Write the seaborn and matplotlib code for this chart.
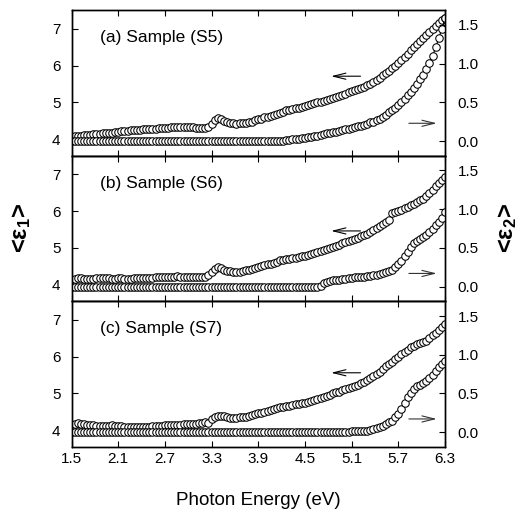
import numpy as np
import pandas as pd
import matplotlib
matplotlib.use('Agg')
import matplotlib.pyplot as plt
import seaborn as sns

# ==============================
# Data (step 0.04 eV)
# ==============================
energia = np.round(np.arange(1.5, 6.3001, 0.04), 2)

eps1_s5 = [4.00, 4.08, 4.10, 4.10, 4.11, 4.12, 4.12, 4.13, 4.14, 4.15,
           4.16, 4.17, 4.17, 4.18, 4.19, 4.20, 4.21, 4.22, 4.23, 4.24,
           4.25, 4.25, 4.26, 4.27, 4.27, 4.28, 4.29, 4.29, 4.30, 4.30,
           4.31, 4.31, 4.32, 4.33, 4.33, 4.33, 4.34, 4.34, 4.33, 4.32,
           4.31, 4.30, 4.30, 4.31, 4.33, 4.42, 4.53, 4.58, 4.55, 4.50,
           4.47, 4.45, 4.43, 4.42, 4.43, 4.44, 4.45, 4.46, 4.48, 4.51,
           4.54, 4.56, 4.59, 4.61, 4.64, 4.66, 4.69, 4.72, 4.75, 4.78,
           4.80, 4.82, 4.84, 4.86, 4.88, 4.90, 4.93, 4.95, 4.97, 5.00,
           5.02, 5.04, 5.07, 5.09, 5.12, 5.15, 5.18, 5.21, 5.24, 5.27,
           5.30, 5.33, 5.36, 5.39, 5.43, 5.47, 5.51, 5.55, 5.60, 5.67,
           5.74, 5.80, 5.86, 5.93, 6.00, 6.08, 6.16, 6.24, 6.32, 6.41,
           6.50, 6.58, 6.66, 6.74, 6.83, 6.92, 7.00, 7.08, 7.16, 7.23,
           7.30]
eps2_s5 = [0.00, 0.00, 0.00, 0.00, 0.00, 0.00, 0.00, 0.00, 0.00, 0.00,
           0.00, 0.00, 0.00, 0.00, 0.00, 0.00, 0.00, 0.00, 0.00, 0.00,
           0.00, 0.00, 0.00, 0.00, 0.00, 0.00, 0.00, 0.00, 0.00, 0.00,
           0.00, 0.00, 0.00, 0.00, 0.00, 0.00, 0.00, 0.00, 0.00, 0.00,
           0.00, 0.00, 0.00, 0.00, 0.00, 0.00, 0.00, 0.00, 0.00, 0.00,
           0.00, 0.00, 0.00, 0.00, 0.00, 0.00, 0.00, 0.00, 0.00, 0.00,
           0.00, 0.00, 0.00, 0.00, 0.00, 0.00, 0.00, 0.00, 0.00, 0.02,
           0.02, 0.03, 0.03, 0.03, 0.04, 0.04, 0.05, 0.05, 0.06, 0.07,
           0.08, 0.09, 0.10, 0.11, 0.12, 0.12, 0.13, 0.14, 0.15, 0.16,
           0.17, 0.18, 0.19, 0.20, 0.21, 0.22, 0.24, 0.25, 0.27, 0.29,
           0.31, 0.34, 0.37, 0.40, 0.43, 0.46, 0.50, 0.55, 0.59, 0.64,
           0.69, 0.74, 0.80, 0.85, 0.93, 1.01, 1.10, 1.21, 1.33, 1.45,
           1.59]

eps1_s6 = [4.00, 4.15, 4.18, 4.17, 4.16, 4.16, 4.15, 4.16, 4.17, 4.17,
           4.18, 4.18, 4.17, 4.16, 4.16, 4.17, 4.17, 4.16, 4.15, 4.16,
           4.17, 4.18, 4.18, 4.18, 4.19, 4.19, 4.19, 4.20, 4.20, 4.21,
           4.21, 4.22, 4.22, 4.22, 4.23, 4.22, 4.22, 4.22, 4.22, 4.21,
           4.21, 4.20, 4.20, 4.22, 4.26, 4.34, 4.43, 4.48, 4.45, 4.41,
           4.38, 4.36, 4.34, 4.34, 4.35, 4.37, 4.39, 4.41, 4.43, 4.45,
           4.47, 4.50, 4.53, 4.55, 4.57, 4.60, 4.63, 4.66, 4.68, 4.70,
           4.71, 4.72, 4.73, 4.75, 4.77, 4.79, 4.81, 4.83, 4.85, 4.88,
           4.91, 4.94, 4.97, 5.00, 5.03, 5.06, 5.09, 5.12, 5.15, 5.18,
           5.21, 5.24, 5.27, 5.31, 5.35, 5.39, 5.44, 5.49, 5.55, 5.60,
           5.65, 5.70, 5.75, 5.94, 5.97, 6.00, 6.04, 6.08, 6.12, 6.16,
           6.20, 6.24, 6.29, 6.34, 6.41, 6.49, 6.58, 6.67, 6.76, 6.85,
           6.93]
eps2_s6 = [0.00, 0.00, 0.00, 0.00, 0.00, 0.00, 0.00, 0.00, 0.00, 0.00,
           0.00, 0.00, 0.00, 0.00, 0.00, 0.00, 0.00, 0.00, 0.00, 0.00,
           0.00, 0.00, 0.00, 0.00, 0.00, 0.00, 0.00, 0.00, 0.00, 0.00,
           0.00, 0.00, 0.00, 0.00, 0.00, 0.00, 0.00, 0.00, 0.00, 0.00,
           0.00, 0.00, 0.00, 0.00, 0.00, 0.00, 0.00, 0.00, 0.00, 0.00,
           0.00, 0.00, 0.00, 0.00, 0.00, 0.00, 0.00, 0.00, 0.00, 0.00,
           0.00, 0.00, 0.00, 0.00, 0.00, 0.00, 0.00, 0.00, 0.00, 0.00,
           0.00, 0.00, 0.00, 0.00, 0.00, 0.00, 0.00, 0.00, 0.00, 0.00,
           0.01, 0.05, 0.06, 0.07, 0.08, 0.08, 0.09, 0.10, 0.10, 0.11,
           0.11, 0.12, 0.12, 0.13, 0.13, 0.14, 0.14, 0.15, 0.15, 0.16,
           0.17, 0.19, 0.20, 0.22, 0.25, 0.29, 0.33, 0.39, 0.45, 0.51,
           0.56, 0.59, 0.62, 0.64, 0.67, 0.71, 0.75, 0.80, 0.84, 0.88,
           0.96]

eps1_s7 = [4.09, 4.18, 4.20, 4.18, 4.16, 4.15, 4.14, 4.13, 4.12, 4.12,
           4.11, 4.12, 4.12, 4.13, 4.12, 4.11, 4.11, 4.10, 4.10, 4.10,
           4.09, 4.09, 4.09, 4.10, 4.10, 4.10, 4.11, 4.11, 4.12, 4.12,
           4.13, 4.13, 4.14, 4.14, 4.14, 4.15, 4.16, 4.16, 4.17, 4.17,
           4.18, 4.19, 4.20, 4.23, 4.20, 4.30, 4.37, 4.39, 4.40, 4.38,
           4.35, 4.34, 4.34, 4.34, 4.35, 4.36, 4.36, 4.38, 4.41, 4.44,
           4.46, 4.48, 4.50, 4.52, 4.55, 4.57, 4.60, 4.63, 4.64, 4.65,
           4.66, 4.68, 4.70, 4.72, 4.74, 4.75, 4.77, 4.79, 4.82, 4.85,
           4.88, 4.91, 4.94, 4.97, 5.00, 5.03, 5.05, 5.08, 5.11, 5.14,
           5.17, 5.21, 5.24, 5.28, 5.32, 5.37, 5.42, 5.47, 5.53, 5.59,
           5.66, 5.74, 5.80, 5.86, 5.93, 5.99, 6.07, 6.13, 6.19, 6.25,
           6.30, 6.34, 6.37, 6.39, 6.43, 6.50, 6.58, 6.65, 6.72, 6.80,
           6.88]
eps2_s7 = [0.00, 0.00, 0.00, 0.00, 0.00, 0.00, 0.00, 0.00, 0.00, 0.00,
           0.00, 0.00, 0.00, 0.00, 0.00, 0.00, 0.00, 0.00, 0.00, 0.00,
           0.00, 0.00, 0.00, 0.00, 0.00, 0.00, 0.00, 0.00, 0.00, 0.00,
           0.00, 0.00, 0.00, 0.00, 0.00, 0.00, 0.00, 0.00, 0.00, 0.00,
           0.00, 0.00, 0.00, 0.00, 0.00, 0.00, 0.00, 0.00, 0.00, 0.00,
           0.00, 0.00, 0.00, 0.00, 0.00, 0.00, 0.00, 0.00, 0.00, 0.00,
           0.00, 0.00, 0.00, 0.00, 0.00, 0.00, 0.00, 0.00, 0.00, 0.00,
           0.00, 0.00, 0.00, 0.00, 0.00, 0.00, 0.00, 0.00, 0.00, 0.00,
           0.00, 0.00, 0.00, 0.00, 0.00, 0.00, 0.00, 0.00, 0.00, 0.00,
           0.01, 0.01, 0.01, 0.02, 0.02, 0.02, 0.03, 0.04, 0.05, 0.06,
           0.08, 0.10, 0.13, 0.15, 0.19, 0.24, 0.30, 0.38, 0.45, 0.51,
           0.56, 0.59, 0.61, 0.63, 0.66, 0.70, 0.74, 0.79, 0.84, 0.88,
           0.92]

amostras = ['(a) Sample (S5)', '(b) Sample (S6)', '(c) Sample (S7)']
eps1_lista = [eps1_s5, eps1_s6, eps1_s7]
eps2_lista = [eps2_s5, eps2_s6, eps2_s7]
# altura das setas: (eps1 da seta esquerda, eps2 da seta direita)
setas = [(5.71, 0.23), (5.46, 0.17), (5.56, 0.17)]

x_ticks = [1.5, 2.1, 2.7, 3.3, 3.9, 4.5, 5.1, 5.7, 6.3]

# ==============================
# Estilo
# ==============================
sns.set_style('ticks')
plt.rcParams['font.family'] = ['Liberation Sans', 'DejaVu Sans']
plt.rcParams['mathtext.default'] = 'regular'
plt.rcParams['xtick.direction'] = 'in'
plt.rcParams['ytick.direction'] = 'in'
for chave in ['text.color', 'axes.labelcolor', 'xtick.color', 'ytick.color', 'axes.edgecolor']:
    plt.rcParams[chave] = 'black'

fig, axes = plt.subplots(3, 1, figsize=(5.22, 5.13), dpi=100, sharex=True)
fig.subplots_adjust(left=0.137, right=0.8525, top=0.98, bottom=0.129, hspace=0)

estilo = dict(color='black', lw=0.8, marker='o', markersize=5.4,
              markerfacecolor='white', markeredgecolor='black',
              markeredgewidth=0.75)

for ax, nome, e1, e2, (y_esq, y_dir) in zip(axes, amostras, eps1_lista, eps2_lista, setas):
    df = pd.DataFrame({'E': energia, 'eps1': e1, 'eps2': e2})
    ax2 = ax.twinx()

    sns.lineplot(data=df, x='E', y='eps1', ax=ax, **estilo)
    sns.lineplot(data=df, x='E', y='eps2', ax=ax2, **estilo)

    ax.set_xlim(1.5, 6.3)
    ax.set_ylim(3.55, 7.5)
    ax2.set_ylim(-0.19, 1.69)
    ax.set_yticks([4, 5, 6, 7])
    ax2.set_yticks([0.0, 0.5, 1.0, 1.5])
    ax2.set_yticklabels(['0.0', '0.5', '1.0', '1.5'])
    ax.set_xticks(x_ticks)
    ax.set_xticklabels([str(t) for t in x_ticks])
    ax.set_xlabel('')
    ax.set_ylabel('')
    ax2.set_ylabel('')

    ax.tick_params(axis='x', top=True, bottom=True, length=4, width=0.8,
                   labelsize=11, pad=4)
    ax.tick_params(axis='y', left=True, right=False, length=4, width=0.8,
                   labelsize=11, pad=8)
    ax2.tick_params(axis='y', right=True, left=False, length=4, width=0.8,
                    labelsize=11, pad=9)
    for a in (ax, ax2):
        for s in a.spines.values():
            s.set_linewidth(1.0)
            s.set_color('black')

    ax.text(0.075, 0.81, nome, transform=ax.transAxes, fontsize=12.5,
            va='center', ha='left')

    # setas indicando o eixo de cada curva
    ax.annotate('', xy=(4.80, y_esq), xytext=(5.25, y_esq),
                arrowprops=dict(arrowstyle='->,head_length=0.9,head_width=0.22',
                                color='black', lw=0.8))
    ax2.annotate('', xy=(6.23, y_dir), xytext=(5.80, y_dir),
                 arrowprops=dict(arrowstyle='->,head_length=0.9,head_width=0.22',
                                 color='#333333', lw=0.8))

fig.text(0.042, 0.555, '<ε$_1$>', rotation=90, fontsize=17, fontweight='bold',
         ha='center', va='center')
fig.text(0.972, 0.555, '<ε$_2$>', rotation=90, fontsize=17, fontweight='bold',
         ha='center', va='center')
fig.text(0.4945, 0.025, 'Photon Energy (eV)', fontsize=13.5, ha='center', va='center')

plt.savefig('out.png', dpi=100)
